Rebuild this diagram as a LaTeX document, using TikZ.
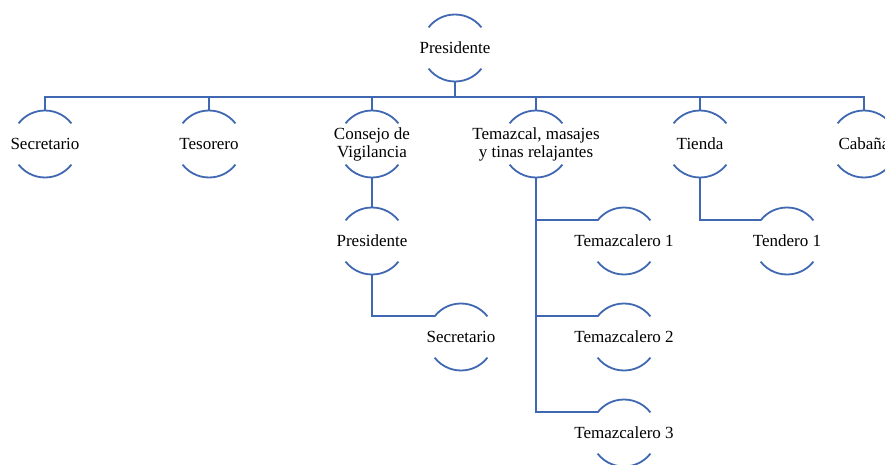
\documentclass[tikz,border=0pt]{standalone}
\usepackage{fontspec}
\setmainfont{Liberation Serif}
\definecolor{chartblue}{RGB}{63,103,178}
\tikzset{
    chart/.style={
            circle, minimum size=67pt, inner sep=0pt, outer sep=0pt,
            label={[chartlabel]center:#1}
        },
    chartlabel/.style={align=center, font=\fontsize{17}{18}\selectfont},
    chartline/.style={draw=chartblue, line width=1.8pt},
}

\begin{document}
\begin{tikzpicture}[x=1pt, y=-1pt]
        \useasboundingbox (0,0) rectangle (885,465);
        %place the nodes
        \node[chart=Presidente] (pres) at (455,48) {};
        \node[chart=Secretario] (sec) at (45,144) {};
        \node[chart=Tesorero] (tes) at (209,144) {};
        \node[chart={Consejo de\\Vigilancia}] (cons) at (372,144) {};
        \node[chart={Temazcal, masajes\\y tinas relajantes}] (tem) at (536,144) {};
        \node[chart=Tienda] (tie) at (700,144) {};
        \node[chart=Cabaña] (cab) at (864,144) {};
        \node[chart=Presidente] (cpres) at (372,241) {};
        \node[chart=Secretario] (csec) at (461,337) {};
        \node[chart=Temazcalero 1] (tz1) at (624,241) {};
        \node[chart=Temazcalero 2] (tz2) at (624,337) {};
        \node[chart=Temazcalero 3] (tz3) at (624,433) {};
        \node[chart=Tendero 1] (tend) at (787,241) {};
        %draw the top and bottom arcs
        \foreach \n in {pres,sec,tes,cons,tem,tie,cab,cpres,csec,tz1,tz2,tz3,tend} {
            \draw[chartline] (\n.38) arc[start angle=38, end angle=142, radius=33.5pt];
            \draw[chartline] (\n.218) arc[start angle=218, end angle=322, radius=33.5pt];
        }
        %connect the nodes
        \foreach \n in {sec,tes,cons,tem,tie,cab}
            \draw[chartline] (pres.south) -- ++(0,15.5) -| (\n.north);
        \draw[chartline] (cons.south) -- (cpres.north);
        \draw[chartline] (cpres.south) |- (csec.142);
        \foreach \n in {tz1,tz2,tz3}
            \draw[chartline] (tem.south) |- (\n.142);
        \draw[chartline] (tie.south) |- (tend.142);
    \end{tikzpicture}
\end{document}
